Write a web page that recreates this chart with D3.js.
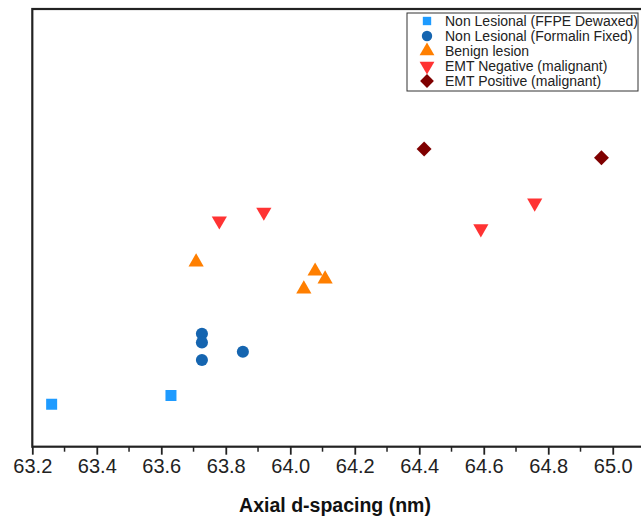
<!DOCTYPE html>
<html>
<head>
<meta charset="utf-8">
<script src="https://cdn.jsdelivr.net/npm/d3@7"></script>
<style>
  body { margin: 0; background: #fff; }
  svg { font-family: "Liberation Sans", Arial, sans-serif; }
</style>
</head>
<body>
<div id="chart"></div>
<script>
// series data: x = axial d-spacing (nm), y = arbitrary units (no y labels on the figure)
const seriesNames = ["Non Lesional (FFPE Dewaxed)", "Non Lesional (Formalin Fixed)", "Benign lesion",
    "EMT Negative (malignant)", "EMT Positive (malignant)"];
const ffpeX = [63.26, 63.63];
const ffpeY = [9.7, 11.7];
const formalinX = [63.726, 63.726, 63.726, 63.853];
const formalinY = [25.8, 23.8, 19.8, 21.7];
const benignX = [63.708, 64.077, 64.042, 64.108];
const benignY = [42.2, 40.1, 36.0, 38.3];
const emtNegX = [63.78, 63.918, 64.591, 64.758];
const emtNegY = [51.6, 53.6, 49.8, 55.7];
const emtPosX = [64.415, 64.965];
const emtPosY = [68.0, 66.0];
const xTicks = [63.2, 63.4, 63.6, 63.8, 64.0, 64.2, 64.4, 64.6, 64.8, 65.0];

const colors = ["#1e9bff", "#1565b0", "#ff7f00", "#ff3333", "#7f0000"];

const W = 641, H = 517;

const svg = d3.select("#chart").append("svg")
    .attr("width", W).attr("height", H);

const x = d3.scaleLinear().domain([63.2, 65.1]).range([32.3, 645]);
const y = d3.scaleLinear().domain([0, 100]).range([446.7, 9]);

// frame
svg.append("rect")
    .attr("x", x(63.2)).attr("y", y(100))
    .attr("width", x(65.1) - x(63.2) + 10).attr("height", y(0) - y(100))
    .attr("fill", "none").attr("stroke", "#222").attr("stroke-width", 2.2);

// x axis with minor ticks
const minor = d3.range(63.3, 65.1, 0.2);
svg.append("g")
    .attr("transform", `translate(0,${y(0)})`)
    .selectAll("line.minor").data(minor).enter().append("line")
    .attr("x1", d => x(d)).attr("x2", d => x(d))
    .attr("y1", 0).attr("y2", 5)
    .attr("stroke", "#222").attr("stroke-width", 1.5);

const xAxis = svg.append("g")
    .attr("transform", `translate(0,${y(0)})`)
    .call(d3.axisBottom(x).tickValues(xTicks).tickFormat(d3.format(".1f")).tickSize(8).tickPadding(4));
xAxis.select(".domain").remove();
xAxis.selectAll(".tick line").attr("stroke", "#222").attr("stroke-width", 1.8);
xAxis.selectAll(".tick text").attr("font-size", 20).attr("fill", "#222")
    .attr("font-family", "Liberation Sans, Arial, sans-serif");

svg.append("text")
    .attr("x", 335).attr("y", 512)
    .attr("text-anchor", "middle")
    .attr("font-size", 19.5).attr("font-weight", "bold").attr("fill", "#111")
    .text("Axial d-spacing (nm)");

// symbols (diamond = square rotated 45deg)
const symbolFns = [
    d3.symbol().type(d3.symbolSquare).size(121),
    d3.symbol().type(d3.symbolCircle).size(115),
    d3.symbol().type(d3.symbolTriangle).size(100),
    d3.symbol().type(d3.symbolTriangle).size(100),
    d3.symbol().type(d3.symbolSquare).size(112)
];
const rotations = [0, 0, 0, 180, 45];
const seriesX = [ffpeX, formalinX, benignX, emtNegX, emtPosX];
const seriesY = [ffpeY, formalinY, benignY, emtNegY, emtPosY];

seriesX.forEach((xs, s) => {
    svg.append("g").selectAll("path").data(xs).enter().append("path")
        .attr("d", symbolFns[s]())
        .attr("transform", (d, i) => `translate(${x(d)},${y(seriesY[s][i])}) rotate(${rotations[s]})`)
        .attr("fill", colors[s]);
});

// legend
const legend = svg.append("g");
legend.append("rect")
    .attr("x", 407).attr("y", 13).attr("width", 231).attr("height", 78)
    .attr("fill", "#fff").attr("stroke", "#333").attr("stroke-width", 1);
const legSymbols = [
    d3.symbol().type(d3.symbolSquare).size(70),
    d3.symbol().type(d3.symbolCircle).size(85),
    d3.symbol().type(d3.symbolTriangle).size(95),
    d3.symbol().type(d3.symbolTriangle).size(95),
    d3.symbol().type(d3.symbolSquare).size(95)
];
seriesNames.forEach((name, s) => {
    const cy = 21 + s * 15;
    legend.append("path")
        .attr("d", legSymbols[s]())
        .attr("transform", `translate(427,${cy}) rotate(${rotations[s]})`)
        .attr("fill", colors[s]);
    legend.append("text")
        .attr("x", 445).attr("y", cy + 5)
        .attr("font-size", 14).attr("fill", "#222")
        .text(name);
});
</script>
</body>
</html>
